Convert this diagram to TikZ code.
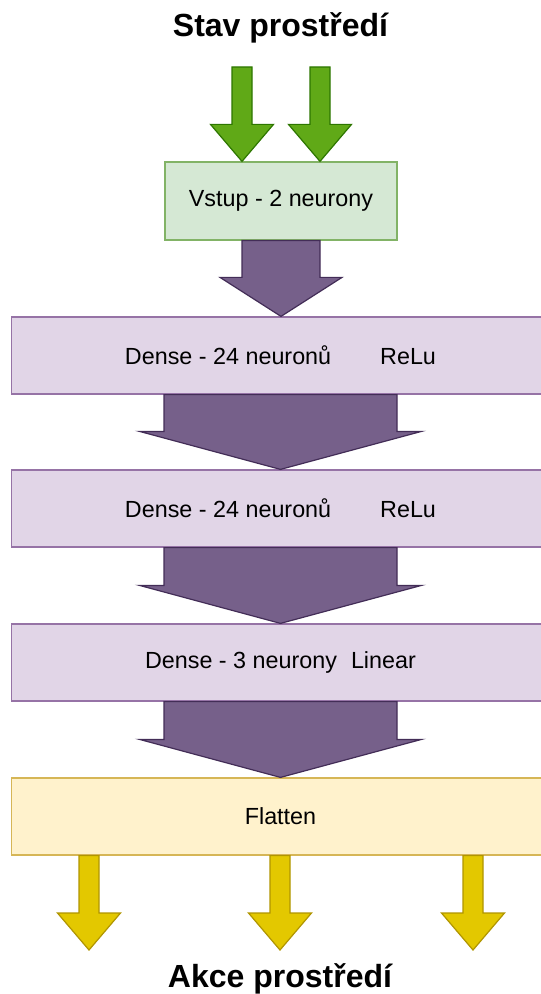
\documentclass[tikz,border=0pt]{standalone}
\usepackage{fontspec}
\setmainfont{Liberation Sans}
\usetikzlibrary{calc}
\tikzset{>=stealth}

\definecolor{vstupF}{HTML}{D5E8D4}
\definecolor{vstupD}{HTML}{82B366}
\definecolor{zelF}{HTML}{60A917}
\definecolor{zelD}{HTML}{2D7600}
\definecolor{denseF}{HTML}{E1D5E7}
\definecolor{denseD}{HTML}{9673A6}
\definecolor{fialF}{HTML}{76608A}
\definecolor{fialD}{HTML}{432D57}
\definecolor{flatF}{HTML}{FFF2CC}
\definecolor{flatD}{HTML}{D6B656}
\definecolor{zlutF}{HTML}{E3C800}
\definecolor{zlutD}{HTML}{B09500}

\tikzset{
  vrstva/.style={draw=denseD, fill=denseF, line width=0.9pt, minimum width=403pt, minimum height=57.75pt, inner sep=0pt, font=\fontsize{17.5}{20}\selectfont},
  titulek/.style={anchor=base, font=\fontsize{24}{28}\selectfont\bfseries},
  zelena/.style={draw=zelD, fill=zelF, line width=0.9pt},
  fialova/.style={draw=fialD, fill=fialF, line width=0.9pt},
  zluta/.style={draw=zlutD, fill=zlutF, line width=0.9pt}
}

% blokova sipka: styl, odkud, kam, pul drieku, pul hrotu, delka hrotu
\newcommand{\blok}[6]{%
  \draw[#1] ($(#2)+(-#4,0)$) -- ($(#2)+(#4,0)$) -- ($(#3)+(#4,-#6)$) -- ($(#3)+(#5,-#6)$)
    -- (#3) -- ($(#3)+(-#5,-#6)$) -- ($(#3)+(-#4,-#6)$) -- cycle;}

\begin{document}
\begin{tikzpicture}[x=0.75pt, y=-0.75pt]
\useasboundingbox (0,0) rectangle (541,994);

\node[titulek] (stav) at (280.5,37) {Stav prostředí};
\node[titulek] (akce) at (280,987) {Akce prostředí};

% vrstvy site
\node[draw=vstupD, fill=vstupF, line width=0.9pt, minimum width=174pt, minimum height=58.5pt, inner sep=0pt, font=\fontsize{17.5}{20}\selectfont] (vstup) at (281,201) {Vstup - 2 neurony};
\node[vrstva] (d1) at (280.5,355.5) {Dense - 24 neuronů\hspace{2.1em}ReLu};
\node[vrstva] (d2) at (280.5,508.5) {Dense - 24 neuronů\hspace{2.1em}ReLu};
\node[vrstva] (d3) at (280.5,662.5) {Dense - 3 neurony\hspace{0.6em}Linear};
\node[vrstva, draw=flatD, fill=flatF] (flat) at (280.5,816.5) {Flatten};

% vstupy
\coordinate (g1) at (242,67);
\coordinate (g2) at (320,67);
\blok{zelena}{g1}{vstup.north -| g1}{10}{31.5}{37}
\blok{zelena}{g2}{vstup.north -| g2}{10}{31.5}{37}

% mezi vrstvami
\blok{fialova}{vstup.south}{d1.north -| vstup.south}{39}{61}{39}
\blok{fialova}{d1.south}{d2.north}{116.5}{141}{38}
\blok{fialova}{d2.south}{d3.north}{116.5}{141}{38}
\blok{fialova}{d3.south}{flat.north}{116.5}{141}{38}

% vystupy
\foreach \i/\x in {1/89, 2/280, 3/473} {
  \coordinate (z\i) at (\x,950);
  \blok{zluta}{flat.south -| z\i}{z\i}{10}{31.5}{37}
}
\end{tikzpicture}
\end{document}
